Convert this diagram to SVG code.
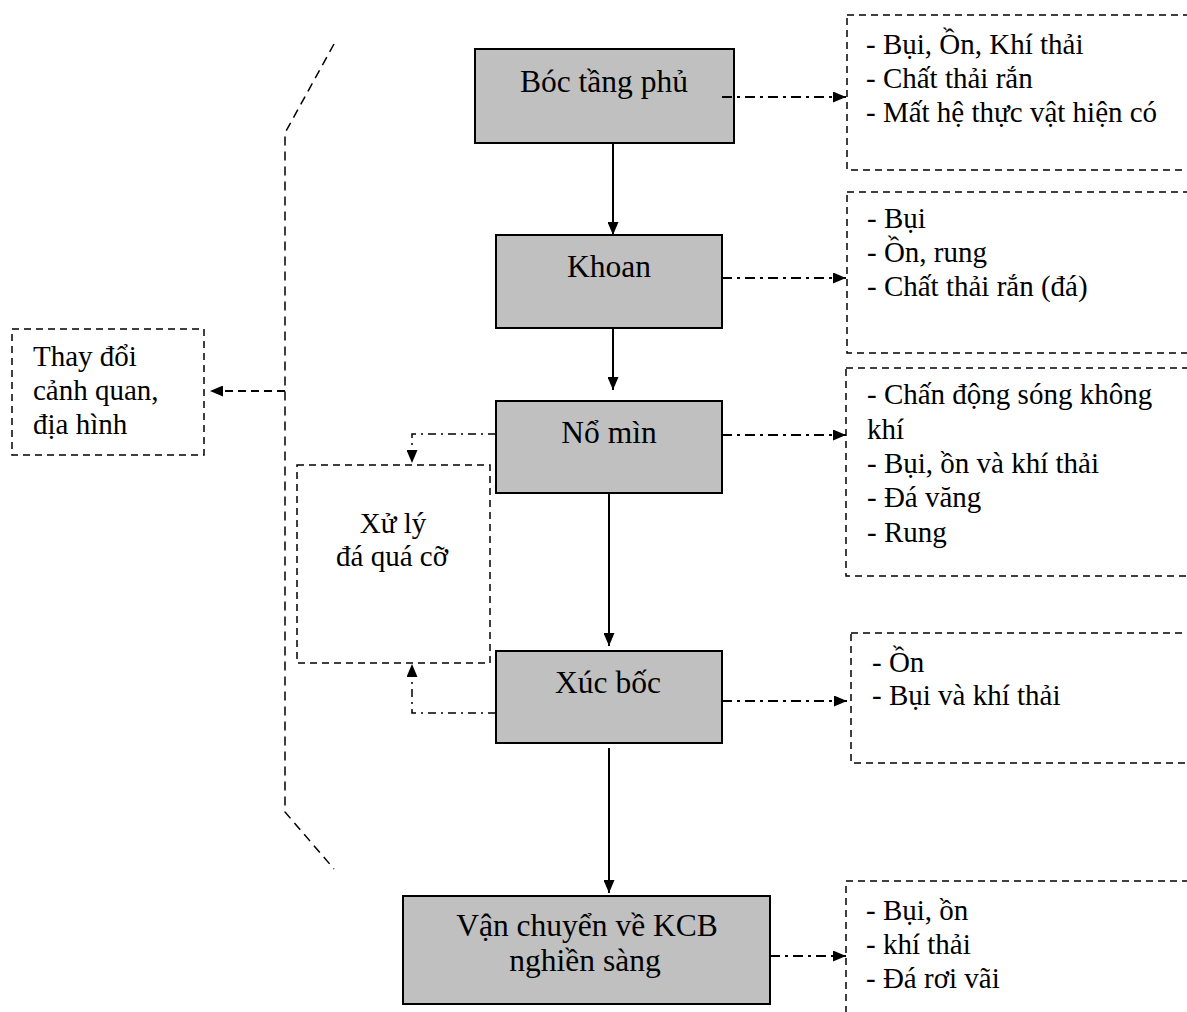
<svg xmlns="http://www.w3.org/2000/svg" width="1187" height="1012" viewBox="0 0 1187 1012">
<style>
  .proc { fill: #c0c0c0; stroke: #000; stroke-width: 2; }
  .dbox { fill: none; stroke: #000; stroke-width: 1.5; stroke-dasharray: 7 5; }
  .ptxt { font-family: "Liberation Serif", "Times New Roman", serif; font-size: 31.5px; fill: #000; text-anchor: middle; }
  .itxt { font-family: "Liberation Serif", "Times New Roman", serif; font-size: 29px; fill: #000; }
  .solid { fill: none; stroke: #000; stroke-width: 2; }
  .dashdot { fill: none; stroke: #000; stroke-width: 2; stroke-dasharray: 10 5 3 5; }
  .dashdot-thin { fill: none; stroke: #000; stroke-width: 1.5; stroke-dasharray: 8 5 2 5; }
  .dashed { fill: none; stroke: #000; stroke-width: 2; stroke-dasharray: 8 5; }
  .bracket { fill: none; stroke: #000; stroke-width: 1.5; stroke-dasharray: 9 6; }
</style>
<defs>
  <marker id="ah" viewBox="0 0 13 11" refX="13" refY="5.5" markerWidth="13" markerHeight="11" markerUnits="userSpaceOnUse" orient="auto">
    <path d="M0,0 L13,5.5 L0,11 Z" fill="#000"/>
  </marker>
</defs>
<rect width="1187" height="1012" fill="#fff"/>

<g id="n-boc">
  <rect class="proc" x="475" y="49" width="259" height="94"/>
  <text class="ptxt" x="604" y="92">Bóc tầng phủ</text>
</g>
<g id="n-khoan">
  <rect class="proc" x="496" y="235" width="226" height="93"/>
  <text class="ptxt" x="609" y="277">Khoan</text>
</g>
<g id="n-nomin">
  <rect class="proc" x="496" y="401" width="226" height="92"/>
  <text class="ptxt" x="609" y="443">Nổ mìn</text>
</g>
<g id="n-xucboc">
  <rect class="proc" x="496" y="651" width="226" height="92"/>
  <text class="ptxt" x="608" y="693">Xúc bốc</text>
</g>
<g id="n-vanchuyen">
  <rect class="proc" x="403" y="896" width="367" height="108"/>
  <text class="ptxt" x="587" y="936">Vận chuyển về KCB</text>
  <text class="ptxt" x="585" y="971">nghiền sàng</text>
</g>

<g id="n-xuly">
  <rect class="dbox" x="297" y="465" width="193" height="198"/>
  <text class="itxt" x="393" y="533" text-anchor="middle">Xử lý</text>
  <text class="itxt" x="392" y="566" text-anchor="middle">đá quá cỡ</text>
</g>
<g id="n-thaydoi">
  <rect class="dbox" x="12" y="329" width="192" height="126"/>
  <text class="itxt" x="33" y="366">Thay đổi</text>
  <text class="itxt" x="33" y="400">cảnh quan,</text>
  <text class="itxt" x="33" y="434">địa hình</text>
</g>

<g id="i-boc">
  <rect class="dbox" x="847" y="15" width="360" height="155"/>
  <text class="itxt" x="866" y="54">- Bụi, Ồn, Khí thải</text>
  <text class="itxt" x="866" y="88">- Chất thải rắn</text>
  <text class="itxt" x="866" y="122">- Mất hệ thực vật hiện có</text>
</g>
<g id="i-khoan">
  <rect class="dbox" x="847" y="192" width="360" height="161"/>
  <text class="itxt" x="867" y="228">- Bụi</text>
  <text class="itxt" x="867" y="262">- Ồn, rung</text>
  <text class="itxt" x="867" y="296">- Chất thải rắn (đá)</text>
</g>
<g id="i-nomin">
  <rect class="dbox" x="846" y="368" width="360" height="208"/>
  <text class="itxt" x="867" y="404">- Chấn động sóng không</text>
  <text class="itxt" x="867" y="439">khí</text>
  <text class="itxt" x="867" y="473">- Bụi, ồn và khí thải</text>
  <text class="itxt" x="867" y="507">- Đá văng</text>
  <text class="itxt" x="867" y="542">- Rung</text>
</g>
<g id="i-xucboc">
  <rect class="dbox" x="851" y="633" width="360" height="130"/>
  <text class="itxt" x="872" y="672">- Ồn</text>
  <text class="itxt" x="872" y="705">- Bụi và khí thải</text>
</g>
<g id="i-vanchuyen">
  <rect class="dbox" x="846" y="881" width="360" height="150"/>
  <text class="itxt" x="866" y="920">- Bụi, ồn</text>
  <text class="itxt" x="866" y="954">- khí thải</text>
  <text class="itxt" x="866" y="988">- Đá rơi vãi</text>
</g>

<g id="connectors">
  <line class="solid" x1="613" y1="143" x2="613" y2="235" marker-end="url(#ah)"/>
  <line class="solid" x1="613" y1="328" x2="613" y2="390" marker-end="url(#ah)"/>
  <line class="solid" x1="609" y1="493" x2="609" y2="646" marker-end="url(#ah)"/>
  <line class="solid" x1="609" y1="748" x2="609" y2="893" marker-end="url(#ah)"/>
  <line class="dashdot" x1="722" y1="97" x2="846" y2="97" marker-end="url(#ah)"/>
  <line class="dashdot" x1="722" y1="278" x2="846" y2="278" marker-end="url(#ah)"/>
  <line class="dashdot" x1="722" y1="435" x2="846" y2="435" marker-end="url(#ah)"/>
  <line class="dashdot" x1="722" y1="701" x2="847" y2="701" marker-end="url(#ah)"/>
  <line class="dashdot" x1="770" y1="956" x2="846" y2="956" marker-end="url(#ah)"/>
  <path class="dashdot-thin" d="M496,434 L412,434 L412,463" marker-end="url(#ah)"/>
  <path class="dashdot-thin" d="M496,713 L412,713 L412,664" marker-end="url(#ah)"/>
  <path class="bracket" d="M334,44 L285,133 L285,812 L334,869"/>
  <line class="dashed" x1="285" y1="391" x2="210" y2="391" marker-end="url(#ah)"/>
</g>
</svg>
